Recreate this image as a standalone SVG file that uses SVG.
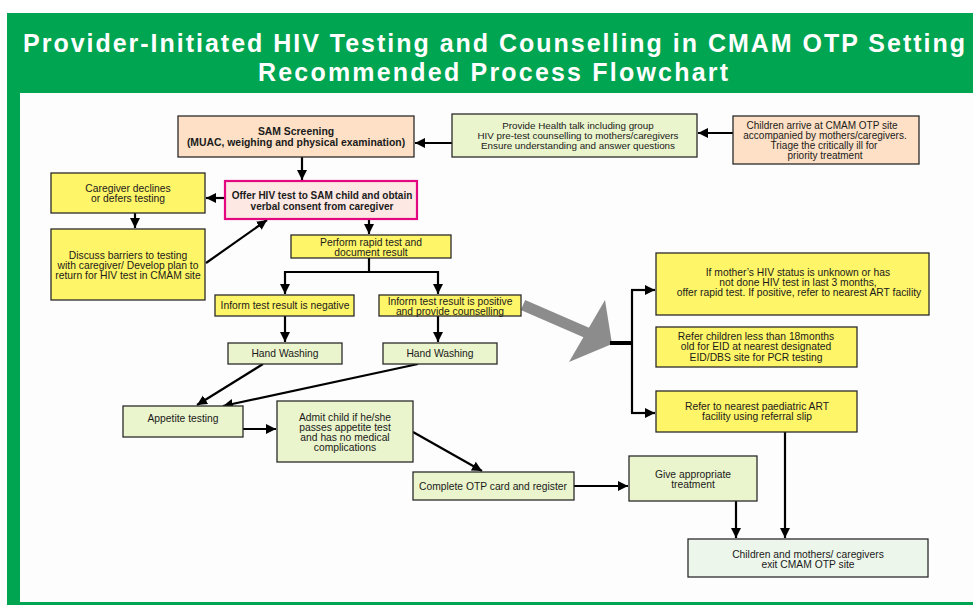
<svg xmlns="http://www.w3.org/2000/svg" width="973" height="605" viewBox="0 0 973 605">
<style>
text{font-family:"Liberation Sans",Arial,sans-serif;font-size:10.3px;fill:#1a1a1a;text-anchor:middle}
.s{font-size:9.8px}
.m{font-size:10px}
.b{font-weight:bold;font-size:10px}
.bl{font-weight:bold;font-size:10.4px}
.t{font-weight:bold;font-size:25px;fill:#fff}
.box{stroke:#2b2b2b;stroke-width:1.3}
.pe{fill:#fde0c5}
.gr{fill:#ebf5cd}
.ye{fill:#fff568}
.ex{fill:#edf6ea}
.of{fill:#fde8e4;stroke:#e3087f;stroke-width:2.2}
.c{stroke:#000;stroke-width:2.2;fill:none}
.ca{stroke:#000;stroke-width:2.2;fill:none;marker-end:url(#ah)}
</style>
<defs>
<marker id="ah" markerUnits="userSpaceOnUse" markerWidth="11" markerHeight="11" refX="10" refY="5" orient="auto">
<path d="M0,0 L10,5 L0,10 z" fill="#000"/>
</marker>
</defs>
<rect x="0" y="0" width="973" height="605" fill="#fdfdfd"/>
<rect x="0" y="0" width="973" height="13" fill="#fff"/>
<g id="frame">
<rect x="7" y="13" width="966" height="80" fill="#00a551"/>
<rect x="7" y="93" width="13" height="512" fill="#00a551"/>
<rect x="7" y="602" width="966" height="3" fill="#00a551"/>
<text class="t" x="494" y="52" textLength="942" lengthAdjust="spacing">Provider-Initiated HIV Testing and Counselling in CMAM OTP Setting</text>
<text class="t" x="493" y="81" textLength="470" lengthAdjust="spacing">Recommended Process Flowchart</text>
</g>
<g id="connectors">
<line class="ca" x1="733" y1="133" x2="698" y2="133"/>
<line class="ca" x1="452" y1="143" x2="415" y2="143"/>
<line class="ca" x1="302" y1="157" x2="302" y2="180"/>
<line class="ca" x1="225" y1="198" x2="206" y2="198"/>
<line class="ca" x1="135" y1="213" x2="135" y2="228"/>
<line class="ca" x1="206" y1="263" x2="267" y2="220"/>
<line class="ca" x1="369" y1="219" x2="369" y2="234"/>
<polyline class="c" points="369,258 369,272"/>
<polyline class="c" points="285,272 438,272"/>
<line class="ca" x1="285" y1="271" x2="285" y2="294"/>
<line class="ca" x1="438" y1="271" x2="438" y2="294"/>
<line class="ca" x1="285" y1="316" x2="285" y2="342"/>
<line class="ca" x1="438" y1="316" x2="438" y2="342"/>
<line class="ca" x1="263" y1="364" x2="197" y2="405"/>
<line class="ca" x1="418" y1="364" x2="223" y2="406"/>
<line class="ca" x1="243" y1="429" x2="276" y2="429"/>
<line class="ca" x1="413" y1="432" x2="482" y2="471"/>
<line class="ca" x1="574" y1="486" x2="628" y2="486"/>
<line class="ca" x1="736" y1="501" x2="736" y2="538"/>
<line class="ca" x1="785" y1="432" x2="785" y2="538"/>
<line x1="523" y1="305" x2="592" y2="335" stroke="#8c8c8c" stroke-width="11"/>
<polygon points="605,300 569,362 612,344" fill="#8c8c8c"/>
<line x1="610" y1="343" x2="633" y2="343" stroke="#000" stroke-width="4"/>
<polyline class="c" points="632,290 632,413"/>
<line class="ca" x1="631" y1="290" x2="655" y2="290"/>
<line class="ca" x1="631" y1="413" x2="655" y2="413"/>
</g>
<g id="sam-screening">
<rect class="box pe" x="178" y="116" width="236" height="41"/>
<text class="bl" x="296" y="134.5">SAM Screening</text>
<text class="bl" x="296" y="145.5">(MUAC, weighing and physical examination)</text>
</g>
<g id="health-talk">
<rect class="box gr" x="452" y="114" width="245" height="43"/>
<text class="s" x="578" y="128.5">Provide Health talk including group</text>
<text class="s" x="578" y="138.5">HIV pre-test counselling to mothers/caregivers</text>
<text class="s" x="578" y="148.5">Ensure understanding and answer questions</text>
</g>
<g id="children-arrive">
<rect class="box pe" x="733" y="116" width="186" height="48"/>
<text class="m" x="822" y="129">Children arrive at CMAM OTP  site</text>
<text class="m" x="825" y="139">accompanied by mothers/caregivers.</text>
<text class="m" x="824" y="149">Triage the critically ill for</text>
<text class="m" x="825" y="159">priority treatment</text>
</g>
<g id="caregiver-declines">
<rect class="box ye" x="51" y="173" width="154" height="40"/>
<text x="128" y="191.5">Caregiver declines</text>
<text x="128" y="201.5">or defers testing</text>
</g>
<g id="offer-test">
<rect class="of" x="225" y="181" width="192" height="38"/>
<text class="b" x="322" y="198.5">Offer HIV test to SAM child and obtain</text>
<text class="b" x="322" y="209.5">verbal consent from caregiver</text>
</g>
<g id="discuss-barriers">
<rect class="box ye" x="51" y="229" width="154" height="71"/>
<text x="128" y="258.5">Discuss barriers to testing</text>
<text x="128" y="268.5">with caregiver/ Develop plan to</text>
<text x="128" y="278.5">return for HIV test in CMAM site</text>
</g>
<g id="perform-test">
<rect class="box ye" x="291" y="235" width="160" height="23"/>
<text x="371" y="245.5">Perform rapid test and</text>
<text x="371" y="255.5">document result</text>
</g>
<g id="inform-negative">
<rect class="box ye" x="215" y="295" width="139" height="21"/>
<text x="285" y="308.5">Inform test result is negative</text>
</g>
<g id="inform-positive">
<rect class="box ye" x="379" y="295" width="142" height="21"/>
<text x="450" y="304.5">Inform test result is positive</text>
<text x="450" y="314.5">and provide counselling</text>
</g>
<g id="hand-washing-1">
<rect class="box gr" x="228" y="343" width="114" height="21"/>
<text x="285" y="356.5">Hand Washing</text>
</g>
<g id="hand-washing-2">
<rect class="box gr" x="383" y="343" width="114" height="21"/>
<text x="440" y="356.5">Hand Washing</text>
</g>
<g id="appetite-testing">
<rect class="box gr" x="123" y="406" width="120" height="31"/>
<text x="183" y="421.5">Appetite testing</text>
</g>
<g id="admit-child">
<rect class="box gr" x="277" y="401" width="136" height="61"/>
<text x="345" y="421">Admit child if he/she</text>
<text x="345" y="431">passes appetite test</text>
<text x="345" y="441">and has no medical</text>
<text x="345" y="451">complications</text>
</g>
<g id="complete-otp">
<rect class="box gr" x="413" y="472" width="161" height="28"/>
<text x="493" y="490">Complete OTP card and register</text>
</g>
<g id="give-treatment">
<rect class="box gr" x="629" y="456" width="128" height="45"/>
<text x="693" y="477.5">Give appropriate</text>
<text x="693" y="487.5">treatment</text>
</g>
<g id="mother-status">
<rect class="box ye" x="656" y="253" width="273" height="62"/>
<text x="798" y="275.5">If mother’s HIV status is unknown or has</text>
<text x="798" y="285.5">not done HIV test in last 3 months,</text>
<text x="799" y="295.5">offer rapid test. If positive, refer to nearest  ART facility</text>
</g>
<g id="refer-eid">
<rect class="box ye" x="656" y="327" width="201" height="40"/>
<text x="756" y="339.5">Refer children less than 18months</text>
<text x="756" y="350">old for EID at nearest designated</text>
<text x="756" y="360.5">EID/DBS site for PCR testing</text>
</g>
<g id="refer-art">
<rect class="box ye" x="656" y="391" width="201" height="41"/>
<text x="757" y="409.5">Refer to nearest paediatric ART</text>
<text x="757" y="419.5">facility using referral slip</text>
</g>
<g id="exit-site">
<rect class="box ex" x="688" y="539" width="240" height="38"/>
<text x="808" y="557.5">Children and mothers/ caregivers</text>
<text x="808" y="567.5">exit CMAM OTP site</text>
</g>
</svg>
